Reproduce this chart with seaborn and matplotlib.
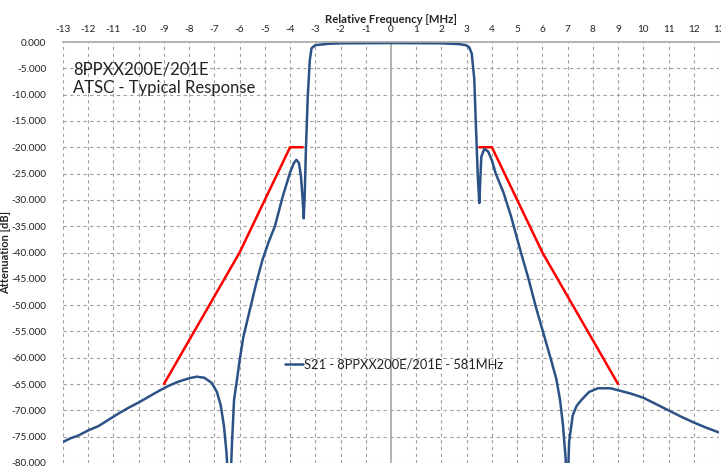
import numpy as np
import pandas as pd
import seaborn as sns
import matplotlib
matplotlib.use("Agg")
import matplotlib.pyplot as plt

freq = [-13.0, -12.7, -12.4, -12.0, -11.6, -11.2, -10.8, -10.4, -10.0, -9.6,
        -9.2, -8.8, -8.4, -8.0, -7.7, -7.4, -7.1, -6.9, -6.75, -6.62,
        -6.52, -6.47, -6.35, -6.3, -6.22, -6.1, -6.0, -5.85, -5.6, -5.35,
        -5.1, -4.85, -4.6, -4.3, -4.0, -3.85, -3.75, -3.65, -3.57, -3.5,
        -3.46, -3.42, -3.37, -3.3, -3.22, -3.15, -3.0, -2.5, -2.0, 0.0,
        2.0, 2.7, 2.97, 3.1, 3.2, 3.3, 3.37, 3.44, 3.5, 3.54,
        3.58, 3.7, 3.85, 4.0, 4.15, 4.45, 4.75, 4.95, 5.15, 5.45,
        5.75, 6.05, 6.35, 6.55, 6.7, 6.82, 6.92, 6.95, 7.02, 7.06,
        7.2, 7.35, 7.55, 7.85, 8.2, 8.7, 9.1, 9.5, 10.0, 10.5,
        11.0, 11.5, 12.0, 12.5, 13.0]
s21 = [-76.0, -75.3, -74.8, -73.8, -73.0, -71.8, -70.6, -69.5, -68.5, -67.4,
       -66.3, -65.3, -64.5, -63.9, -63.6, -63.8, -64.8, -66.5, -69.0, -73.0,
       -78.0, -82.0, -82.0, -76.0, -68.0, -64.0, -60.5, -56.0, -51.0, -46.0,
       -41.5, -38.0, -35.0, -29.5, -24.8, -23.0, -22.4, -23.0, -25.5, -30.0,
       -33.5, -29.0, -20.0, -10.5, -3.5, -1.2, -0.6, -0.35, -0.25, -0.2,
       -0.25, -0.4, -0.6, -1.0, -2.2, -7.0, -16.5, -25.5, -30.6, -26.0,
       -21.8, -20.3, -20.8, -22.5, -25.0, -28.5, -33.0, -36.5, -40.0, -45.0,
       -50.5, -55.5, -60.5, -64.0, -68.0, -73.0, -79.0, -82.0, -82.0, -76.0,
       -71.0, -69.2, -68.0, -66.5, -65.8, -65.8, -66.3, -66.8, -67.6, -68.8,
       -70.0, -71.2, -72.3, -73.3, -74.2]

# Red mask (lower and upper side)
mask_lo_x = [-9, -6, -4, -3.5]
mask_lo_y = [-65, -40, -20, -20]
mask_hi_x = [3.5, 4, 6, 9]
mask_hi_y = [-20, -20, -40, -65]

x_ticks = list(range(-13, 14))
y_ticks = list(range(0, -85, -5))

df = pd.DataFrame({"f": freq, "att": s21})
df_lo = pd.DataFrame({"f": mask_lo_x, "att": mask_lo_y})
df_hi = pd.DataFrame({"f": mask_hi_x, "att": mask_hi_y})

sns.set_style("white")
plt.rcParams["font.family"] = ["Lato", "DejaVu Sans"]
plt.rcParams["axes.unicode_minus"] = False

fig = plt.figure(figsize=(7.21, 4.71), dpi=100)
ax = fig.add_axes([63 / 721, 1 - 463 / 471, 656 / 721, 421 / 471])

# dashed grid, solid line at 0 MHz
grid_kw = dict(color="#a0a0a0", lw=0.8, ls=(0, (3, 3)), zorder=0)
for xv in x_ticks:
    if xv != 0:
        ax.axvline(xv, **grid_kw)
for yv in y_ticks:
    if yv != 0:
        ax.axhline(yv, **grid_kw)
ax.axvline(0, color="#a6a6a6", lw=1.2, zorder=0)

sns.lineplot(data=df_lo, x="f", y="att", sort=False, color="#ff0000", lw=1.8, ax=ax)
sns.lineplot(data=df_hi, x="f", y="att", sort=False, color="#ff0000", lw=1.8, ax=ax)
sns.lineplot(data=df, x="f", y="att", sort=False, color="#2a5286", lw=1.8, ax=ax,
             label="S21 - 8PPXX200E/201E - 581MHz")

ax.set_xlim(-13, 13)
ax.set_ylim(-80, 0)
ax.set_xticks(x_ticks)
ax.set_yticks(y_ticks)
ax.set_yticklabels([f"{v:.3f}" for v in y_ticks])
ax.xaxis.tick_top()
ax.xaxis.set_label_position("top")
ax.tick_params(axis="both", length=0, labelsize=7.2, colors="#222222")
ax.tick_params(axis="x", pad=6)
ax.tick_params(axis="y", pad=12)

for side in ["left", "right", "bottom"]:
    ax.spines[side].set_visible(False)
ax.spines["top"].set_color("#a6a6a6")
ax.spines["top"].set_linewidth(1.2)

ax.set_xlabel("Relative Frequency [MHz]", fontsize=8.2, fontweight="bold", labelpad=1)
ax.set_ylabel("Attenuation [dB]", fontsize=8, fontweight="bold")
ax.yaxis.set_label_coords(-0.079, 0.5)

ax.text(-12.6, -5.3, "8PPXX200E/201E", fontsize=12, va="center", ha="left", color="#222222")
ax.text(-12.6, -8.8, "ATSC - Typical Response", fontsize=12, va="center", ha="left", color="#222222")

leg = ax.legend(loc="center left", bbox_to_anchor=(0.33, 0.233), frameon=False,
                fontsize=9.3, handlelength=1.4, handletextpad=0.1, borderaxespad=0)
for t in leg.get_texts():
    t.set_color("#222222")

fig.savefig("out.png", dpi=100)
